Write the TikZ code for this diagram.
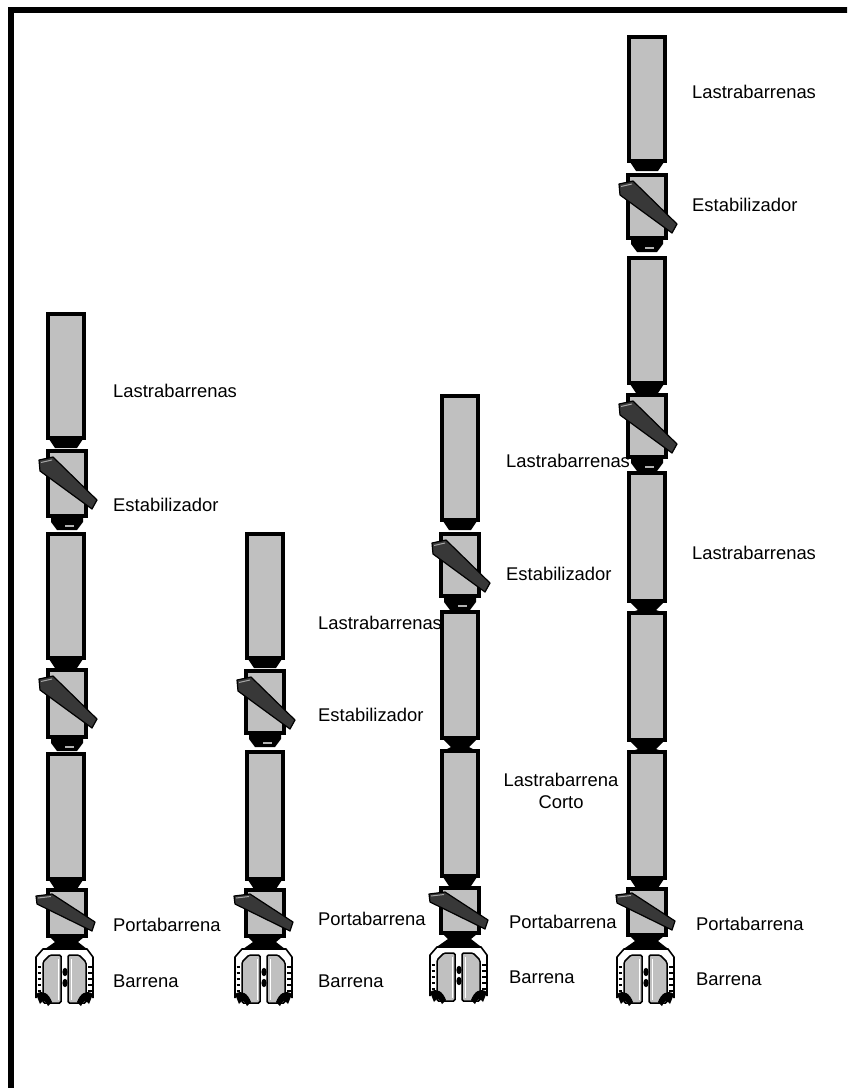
\documentclass[tikz,border=0pt]{standalone}
\usepackage{fontspec}
\setmainfont{Liberation Sans}
\definecolor{steel}{HTML}{C0C0C0}
\definecolor{bladegray}{HTML}{383838}

\tikzset{
  collarbox/.style={draw=black, line width=4pt, fill=steel},
  bladest/.style={draw=black, line width=1.2pt, fill=bladegray, line join=round},
  jointfill/.style={fill=black},
  conest/.style={draw=black, line width=1.5pt, fill=steel, rounded corners=1.5pt},
  lbl/.style={anchor=west, inner sep=0pt, font=\fontsize{18.4}{22}\selectfont}
}

% drill collar / box body: centre x, top y, bottom y
\newcommand\DCollar[3]{\draw[collarbox] ({#1-18},{#2+2}) rectangle ({#1+18},{#3-2});}
\newcommand\DBox[3]{\draw[collarbox] ({#1-19},{#2+2}) rectangle ({#1+19},{#3-2});}
% stabiliser blade on a box of top y
\newcommand\DBlade[2]{%
  \draw[bladest] ({#1-28},{#2+11}) -- ({#1-14},{#2+8}) -- ({#1+30},{#2+51})
     -- ({#1+25},{#2+60}) -- ({#1-27},{#2+22}) -- cycle;
  \draw[gray!70, line width=1pt] ({#1-26},{#2+13.5}) -- ({#1-15},{#2+11});}
\newcommand\DStab[3]{\DBox{#1}{#2}{#3}\DBlade{#1}{#2}}
% bit sub with its flatter blade
\newcommand\DSub[3]{\DBox{#1}{#2}{#3}%
  \draw[bladest] ({#1-31},{#2+8}) -- ({#1-15},{#2+6}) -- ({#1+28},{#2+34})
     -- ({#1+25},{#2+43}) -- ({#1-30},{#2+16}) -- cycle;
  \draw[gray!70, line width=1pt] ({#1-29},{#2+10}) -- ({#1-16},{#2+8.5});}
% pin taper under a collar
\newcommand\DPin[2]{\fill[jointfill] ({#1-17},{#2-1}) -- ({#1+17},{#2-1}) -- ({#1+11},{#2+8}) -- ({#1-11},{#2+8}) -- cycle;}
% collar to collar connection
\newcommand\DHour[3]{\fill[jointfill] ({#1-17},{#2-1}) -- ({#1+17},{#2-1}) -- ({#1+9},{#2+7})
   -- ({#1+15},{#3+1}) -- ({#1-15},{#3+1}) -- ({#1-9},{#2+7}) -- cycle;}
% connection under a stabiliser
\newcommand\DBoxJ[2]{\fill[jointfill] ({#1-16},{#2}) -- ({#1+16},{#2}) -- ({#1+16},{#2+4})
   -- ({#1+10},{#2+12}) -- ({#1-10},{#2+12}) -- ({#1-16},{#2+4}) -- cycle;
  \draw[gray!60, line width=1.2pt] ({#1-2},{#2+8}) -- ({#1+7},{#2+8});}
% connection between bit sub and bit
\newcommand\DBitJ[2]{\fill[jointfill] ({#1-17},{#2-1}) -- ({#1+17},{#2-1}) -- ({#1+11},{#2+4})
   -- ({#1+20},{#2+11}) -- ({#1-22},{#2+11}) -- ({#1-12},{#2+4}) -- cycle;}
% tricone bit: centre x, top y
\newcommand\DBit[2]{%
  \begin{scope}[shift={(#1,#2)}]
    \draw[line width=1.6pt, line join=round] (-29,50) -- (-29,9) -- (-22,1) -- (22,1) -- (28,9) -- (28,50);
    \draw[conest] (-4,55) -- (-22,55) -- (-22,14) -- (-15,7) -- (-4,7) -- cycle;
    \draw[conest] (3,55) -- (21,55) -- (21,14) -- (14,7) -- (3,7) -- cycle;
    \draw[white, line width=1pt] (-7,11) -- (-7,52);
    \draw[white, line width=1pt] (6,11) -- (6,52);
    \fill (0,24) ellipse (2.6pt and 4.2pt);
    \fill (0,35) ellipse (2.6pt and 4.2pt);
    \foreach \g in {19,25,31,37,43} {
      \draw[line width=1.3pt] (-27.5,\g) -- (-24,\g);
      \draw[line width=1.3pt] (23,\g) -- (26.5,\g);
    }
    \fill (-29,46) .. controls (-22,41) and (-16,46) .. (-13,54) -- (-17,58)
       .. controls (-19,53) and (-22,51) .. (-25,56) -- cycle;
    \fill (28,46) .. controls (21,41) and (15,46) .. (12,54) -- (16,58)
       .. controls (18,53) and (21,51) .. (24,56) -- cycle;
  \end{scope}}

\begin{document}
\begin{tikzpicture}[x=1pt,y=-1pt]
\useasboundingbox (0,0) rectangle (847,1088);
\clip (0,0) rectangle (847,1088);
% frame
\draw[line width=5.5pt] (11,10) rectangle (900,1150);

% labels
\node[lbl] (a1) at (113,391) {Lastrabarrenas};
\node[lbl] (a2) at (113,505) {Estabilizador};
\node[lbl] (a3) at (113,925) {Portabarrena};
\node[lbl] (a4) at (113,981) {Barrena};

\node[lbl] (b1) at (318,623) {Lastrabarrenas};
\node[lbl] (b2) at (318,715) {Estabilizador};
\node[lbl] (b3) at (318,919) {Portabarrena};
\node[lbl] (b4) at (318,981) {Barrena};

\node[lbl] (c1) at (506,461) {Lastrabarrenas};
\node[lbl] (c2) at (506,574) {Estabilizador};
\node[lbl, anchor=center, align=center] (c3) at (561,791) {Lastrabarrena\\Corto};
\node[lbl] (c4) at (509,922) {Portabarrena};
\node[lbl] (c5) at (509,977) {Barrena};

\node[lbl] (d1) at (692,92) {Lastrabarrenas};
\node[lbl] (d2) at (692,205) {Estabilizador};
\node[lbl] (d3) at (692,553) {Lastrabarrenas};
\node[lbl] (d4) at (696,924) {Portabarrena};
\node[lbl] (d5) at (696,979) {Barrena};

% string 1
\DCollar{66}{312}{440} \DPin{66}{440}
\DStab{67}{449}{518} \DBoxJ{67}{518}
\DCollar{66}{532}{660} \DPin{66}{660}
\DStab{67}{668}{739} \DBoxJ{67}{739}
\DCollar{66}{752}{881} \DPin{66}{881}
\DSub{67}{888}{938} \DBitJ{67}{938}
\DBit{65}{948}

% string 2
\DCollar{265}{532}{660} \DPin{265}{660}
\DStab{265}{669}{735} \DBoxJ{265}{735}
\DCollar{265}{750}{881} \DPin{265}{881}
\DSub{265}{888}{938} \DBitJ{265}{938}
\DBit{264}{948}

% string 3
\DCollar{460}{394}{522} \DPin{460}{522}
\DStab{460}{532}{598} \DBoxJ{460}{598}
\DCollar{460}{610}{740} \DHour{460}{740}{749}
\DCollar{460}{749}{878} \DPin{460}{878}
\DSub{460}{886}{935} \DBitJ{460}{935}
\DBit{459}{946}

% string 4
\DCollar{647}{35}{163} \DPin{647}{163}
\DStab{647}{173}{240} \DBoxJ{647}{240}
\DCollar{647}{256}{385} \DPin{647}{385}
\DStab{647}{393}{459} \DBoxJ{647}{459}
\DCollar{647}{471}{603} \DHour{647}{603}{611}
\DCollar{647}{611}{742} \DHour{647}{742}{750}
\DCollar{647}{750}{880} \DPin{647}{880}
\DSub{647}{887}{937} \DBitJ{647}{937}
\DBit{646}{948}
\end{tikzpicture}
\end{document}
